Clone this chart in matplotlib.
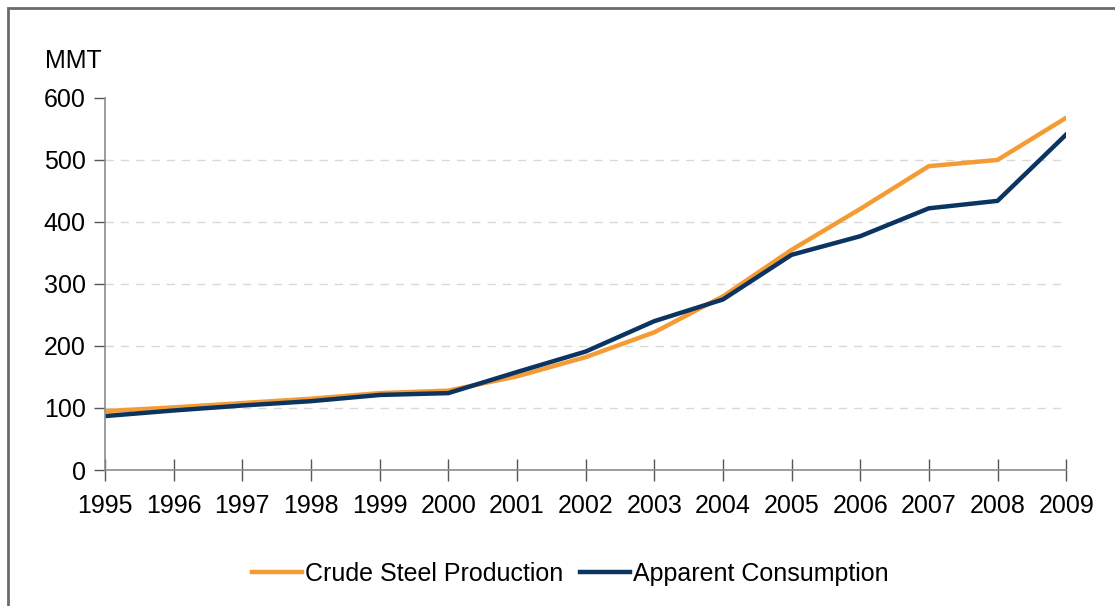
import matplotlib.pyplot as plt
from matplotlib.patches import Rectangle

plt.rcParams['font.family'] = ['Liberation Sans', 'DejaVu Sans']

years = [1995, 1996, 1997, 1998, 1999, 2000, 2001, 2002, 2003, 2004, 2005, 2006, 2007, 2008, 2009]
production = [95, 101, 108, 115, 124, 128, 151, 182, 222, 280, 355, 421, 490, 500, 568]
consumption = [87, 96, 104, 111, 121, 124, 158, 191, 240, 275, 347, 377, 422, 434, 541]
y_ticks = [0, 100, 200, 300, 400, 500, 600]

ORANGE = '#F59B33'
NAVY = '#0B3461'

fig = plt.figure(figsize=(11.15, 6.06), dpi=100)
ax = fig.add_axes([0.0942, 0.2244, 0.862, 0.614])

# outer frame
fig.patches.append(Rectangle((8 / 1115, -0.05), 1.2, 1 - 8 / 606 + 0.05,
                             transform=fig.transFigure, fill=False,
                             edgecolor='#6b6b6b', linewidth=2))

ax.plot(years, production, color=ORANGE, lw=3.2, label='Crude Steel Production')
ax.plot(years, consumption, color=NAVY, lw=3.2, label='Apparent Consumption')

ax.set_xlim(years[0], years[-1])
ax.set_ylim(0, 600)
ax.set_xticks(years)
ax.set_yticks(y_ticks)
for v in y_ticks[1:-1]:
    ax.axhline(v, color='#d9d9d9', lw=1, ls=(0, (6, 5)), zorder=0)

for s in ['top', 'right']:
    ax.spines[s].set_visible(False)
for s in ['left', 'bottom']:
    ax.spines[s].set_color('#8c8c8c')
    ax.spines[s].set_linewidth(1.2)
ax.tick_params(axis='x', direction='inout', length=16, width=1, color='#555555',
               labelsize=18, pad=9)
ax.tick_params(axis='y', direction='out', length=8, width=1, color='#555555',
               labelsize=18, pad=6)

fig.text(45 / 1115, 1 - 61 / 606, 'MMT', fontsize=18, va='center', ha='left')

ax.legend(loc='center', bbox_to_anchor=(0.484, -0.28), ncol=2, frameon=False,
          fontsize=18, handlelength=2.0, handletextpad=0.12, columnspacing=0.7)

fig.savefig('out.png', dpi=100)
